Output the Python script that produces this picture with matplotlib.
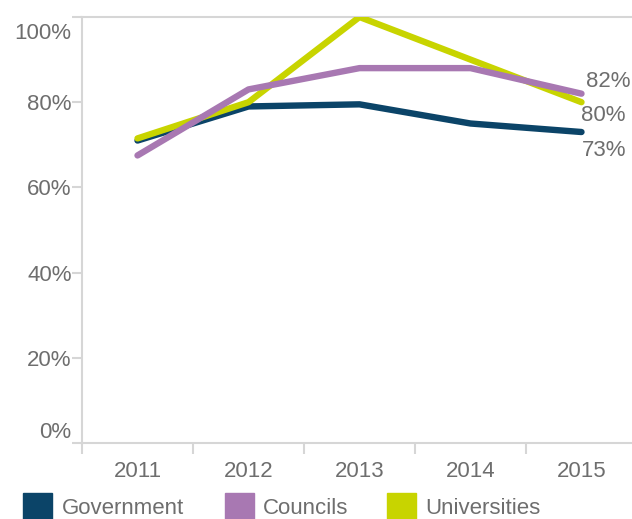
import matplotlib.pyplot as plt
from matplotlib.patches import Rectangle
from matplotlib.transforms import ScaledTranslation

years = ['2011', '2012', '2013', '2014', '2015']
government = [71, 79, 79.5, 75, 73]
councils = [67.5, 83, 88, 88, 82]
universities = [71.5, 80, 100, 90, 80]

series = [
    ('Government', government, '#0b4468'),
    ('Universities', universities, '#c8d400'),
    ('Councils', councils, '#a878b2'),
]

plt.rcParams['font.family'] = ['Liberation Sans', 'DejaVu Sans']
grey = '#6e6e6e'
axis_grey = '#d6d6d6'
fs = 16

fig = plt.figure(figsize=(6.32, 5.19), dpi=100)
ax = fig.add_axes([82 / 632, 1 - 443 / 519, (637 - 82) / 632, (443 - 17) / 519])

x = list(range(len(years)))
for name, vals, color in series:
    ax.plot(x, vals, color=color, lw=4.6, solid_capstyle='round',
            solid_joinstyle='round', label=name)

# end-of-line value labels
ax.annotate(f'{councils[-1]:.0f}%', (x[-1], councils[-1]), xytext=(3, 9),
            textcoords='offset points', ha='left', va='center',
            fontsize=fs, color=grey)
ax.annotate(f'{universities[-1]:.0f}%', (x[-1], universities[-1]), xytext=(0, -9.5),
            textcoords='offset points', ha='left', va='center',
            fontsize=fs, color=grey)
ax.annotate(f'{government[-1]:.0f}%', (x[-1], government[-1]), xytext=(0, -13),
            textcoords='offset points', ha='left', va='center',
            fontsize=fs, color=grey)

ax.set_xlim(-0.5, 4.5)
ax.set_ylim(0, 100)
ax.axhline(100, color=axis_grey, lw=1.5, zorder=0, clip_on=False)

ax.set_xticks(x)
ax.set_xticklabels(years)
ax.set_xticks([i - 0.5 for i in x], minor=True)
ax.tick_params(axis='x', which='major', length=0, pad=13, labelsize=fs, labelcolor=grey)
ax.tick_params(axis='x', which='minor', length=8, width=1.5, color=axis_grey)

ax.set_yticks(range(0, 101, 20))
ax.set_yticklabels([f'{v}%' for v in range(0, 101, 20)])
ax.tick_params(axis='y', length=7.5, width=1.5, color=axis_grey, pad=0,
               labelsize=fs, labelcolor=grey)
ylabels = ax.get_yticklabels()
ylabels[0].set_va('bottom')
ylabels[-1].set_va('top')
ylabels[-1].set_transform(ylabels[-1].get_transform() +
                          ScaledTranslation(0, -4 / 72, fig.dpi_scale_trans))

for side in ['top', 'right']:
    ax.spines[side].set_visible(False)
for side in ['left', 'bottom']:
    ax.spines[side].set_color(axis_grey)
    ax.spines[side].set_linewidth(1.5)

# legend row along the bottom
legend_items = [('Government', '#0b4468', 23, 62),
                ('Councils', '#a878b2', 225, 263),
                ('Universities', '#c8d400', 387, 425)]
for name, color, bx, tx in legend_items:
    fig.patches.append(Rectangle((bx / 632, 0), 29 / 632, 26 / 519,
                                 transform=fig.transFigure, color=color))
    fig.text(tx / 632, 1 - 509 / 519, name, fontsize=fs, color=grey,
             va='center', ha='left')

fig.savefig('out.png', dpi=100)
